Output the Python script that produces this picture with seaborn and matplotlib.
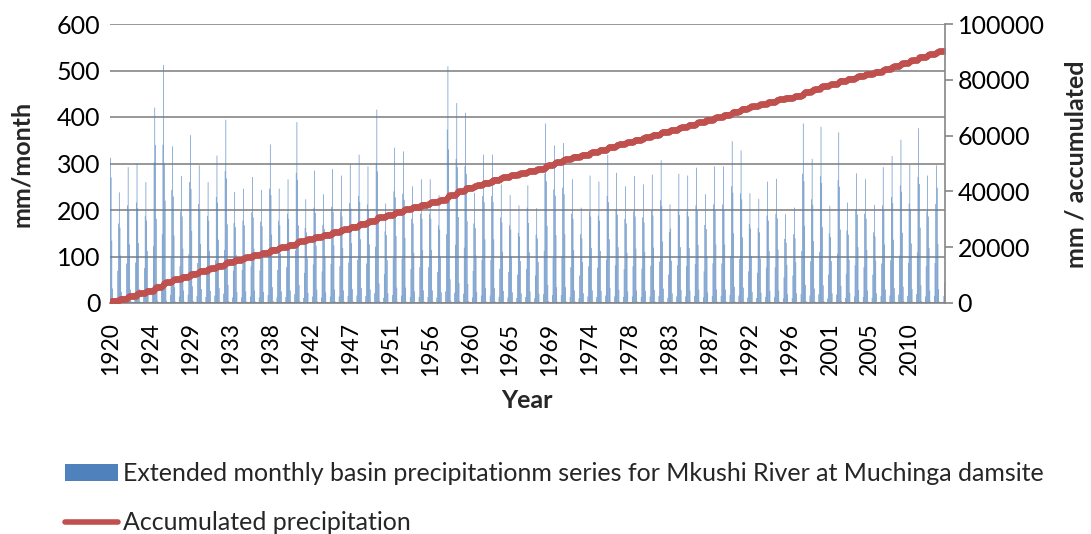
import numpy as np
import pandas as pd
import matplotlib
matplotlib.use("Agg")
import matplotlib.pyplot as plt
from matplotlib.patches import Patch
from matplotlib.lines import Line2D
import seaborn as sns

# ---- data (mm per month), one list per calendar month, years 1920..2013 ----
years = list(range(1920, 2014))

jan = [312,238,292,300,260,420,512,337,273,361,296,260,317,394,239,246,
       271,243,341,246,266,389,223,285,234,288,274,299,319,294,416,214,
       334,326,251,266,266,232,509,430,409,237,319,319,255,232,210,253,
       204,386,339,344,266,205,274,261,319,280,251,273,255,276,307,
       212,278,274,291,234,294,294,348,328,236,224,261,267,191,205,386,
       310,379,209,367,216,279,266,211,292,316,351,297,376,274,296]
feb = [270,162,199,204,177,340,300,229,186,245,201,177,216,268,163,167,
       184,165,232,167,181,265,152,194,159,196,186,203,217,200,283,146,
       227,222,171,181,181,158,330,292,278,161,217,217,173,158,143,172,
       139,262,231,234,181,139,186,177,217,190,171,186,173,188,209,
       160,189,186,198,159,200,200,237,223,160,152,177,182,130,139,262,
       211,258,142,250,147,190,181,143,199,215,239,202,256,186,248]
mar = [134,102,126,129,112,181,220,145,117,155,127,112,136,169,103,106,
       117,104,147,106,114,167,96,123,101,124,118,129,137,126,179,92,
       144,140,108,114,114,100,219,185,176,102,137,137,110,100,90,109,
       88,166,146,148,114,88,118,112,137,120,108,117,110,119,132,
       91,120,118,125,101,126,126,150,141,101,96,112,115,82,88,166,
       133,163,90,158,93,120,114,91,126,136,151,128,162,118,127]
apr = [31,24,29,30,26,42,51,34,27,36,30,26,32,39,24,25,
       27,24,34,25,27,39,22,29,23,29,27,30,32,29,42,21,
       33,33,25,27,27,23,51,43,41,24,32,32,26,23,21,25,
       20,39,34,34,27,21,27,26,32,28,25,27,26,28,31,
       21,28,27,29,23,29,29,35,33,24,22,26,27,19,21,39,
       31,38,21,37,22,28,27,21,29,32,35,30,38,27,30]
may = [3,2,4,3,2,5,5,3,3,4,3,2,3,4,2,3,
       3,2,4,2,3,4,2,3,2,3,3,3,3,3,4,2,
       3,3,2,3,3,2,5,4,4,2,3,3,2,2,2,3,
       2,4,3,3,3,2,3,3,3,3,2,3,2,3,3,
       2,3,3,3,2,3,3,3,3,2,2,3,3,2,2,4,
       3,4,2,4,2,3,3,2,3,3,4,3,4,3,3]
jun = [0,0,1,0,0,0,2,0,0,0,0,0,1,0,0,0,
       0,0,0,0,1,0,0,0,0,0,0,2,0,0,0,0,
       0,1,0,0,0,0,0,0,2,0,0,0,0,0,0,0,
       0,0,0,1,0,0,0,0,0,0,0,1,0,0,0,
       0,0,0,0,0,1,0,0,0,0,0,0,0,0,0,0,
       0,1,0,0,0,0,0,0,0,1,0,0,0,0,0]
jul = [0,0,0,0,0,0,0,0,0,0,1,0,0,0,0,0,
       0,0,0,0,0,0,0,0,0,0,0,0,0,0,0,0,
       0,0,0,0,0,0,0,0,0,0,0,0,0,0,1,0,
       0,0,0,0,0,0,0,0,0,0,0,0,0,0,0,
       0,0,0,0,0,0,0,0,0,0,0,0,0,0,0,0,
       0,0,0,0,0,0,0,0,0,0,0,0,0,0,0]
aug = [0,0,0,0,0,0,0,0,0,0,0,0,0,0,0,0,
       0,0,0,0,0,0,0,0,0,0,0,0,0,0,0,0,
       0,0,0,0,0,0,0,0,0,0,0,0,0,0,0,0,
       0,0,0,0,0,0,0,0,0,0,0,0,0,0,0,
       0,0,0,0,0,0,0,0,0,0,0,0,0,0,0,0,
       0,0,0,0,0,0,0,0,0,0,0,0,0,0,0]
sep = [1,1,2,1,1,2,2,1,1,1,1,1,2,1,1,1,
       1,1,1,1,2,1,1,1,1,1,1,1,1,2,1,1,
       1,1,1,1,1,2,2,2,1,1,1,1,1,1,1,1,
       2,1,1,1,1,1,1,1,1,1,1,1,1,1,1,
       1,1,1,1,1,1,1,1,1,1,1,1,1,1,2,1,
       1,1,2,1,1,1,1,1,1,1,1,1,1,1,1]
oct_ = [12,15,15,13,21,26,17,14,18,15,13,16,20,12,12,14,
        12,17,12,13,19,11,14,12,14,14,15,16,15,21,11,17,
        16,13,13,13,12,25,22,20,12,16,16,13,12,11,13,10,
        19,17,17,13,10,14,13,16,14,13,14,13,14,15,11,
        14,14,15,12,15,15,17,16,12,11,13,13,10,10,19,16,
        19,10,18,11,14,13,11,15,16,18,15,19,14,15,3]
nov = [69,85,87,75,122,148,98,79,105,86,75,92,114,69,71,79,
       70,99,71,77,113,65,83,68,84,79,87,93,85,121,62,97,
       95,73,77,77,67,148,125,119,69,93,93,74,67,61,73,59,
       112,98,100,77,59,79,76,93,81,73,79,74,80,89,61,
       81,79,84,68,85,85,101,95,68,65,76,77,55,59,112,90,
       110,61,106,63,81,77,61,85,92,102,86,109,79,86,15]
dec = [171,210,216,187,302,340,243,197,260,213,187,228,284,172,177,195,
       175,246,177,192,280,161,205,168,207,197,215,230,212,300,154,240,
       235,181,192,192,167,373,310,294,171,230,230,184,167,151,205,147,
       278,244,248,192,148,197,188,230,202,181,197,184,199,221,153,
       200,197,210,168,212,212,251,236,170,161,188,192,138,148,278,223,
       273,150,264,156,201,192,152,210,228,253,214,271,197,213,44]

bar_label = "Extended monthly basin precipitationm series for Mkushi River at Muchinga damsite"
line_label = "Accumulated precipitation"

# ---- build monthly table ----
months = [jan, feb, mar, apr, may, jun, jul, aug, sep, oct_, nov, dec]
monthly = np.array(months).T.reshape(-1)
n = len(monthly)
df = pd.DataFrame({
    "idx": np.arange(n),
    "year": np.repeat(years, 12),
    "precip": monthly,
})
df["accum"] = df["precip"].cumsum()

# ---- style ----
sns.set_theme(style="white")
plt.rcParams["font.family"] = ["Lato", "DejaVu Sans"]
FS = 18
FS_X = 16.5
GRID = "#868686"
BLUE = "#4F81BD"
RED = "#C0504D"

fig = plt.figure(figsize=(10.91, 5.34), dpi=100)
ax = fig.add_axes([110/1091, 1-303/534, 835/1091, 279/534])

sns.barplot(data=df, x="idx", y="precip", ax=ax, color=BLUE, saturation=1,
            width=0.8, linewidth=0, errorbar=None)
for p in ax.patches:
    p.set_snap(False)
    p.set_antialiased(True)
ax.set_ylim(0, 600)
ax.set_yticks(np.arange(0, 601, 100))
ax.set_xlim(-0.5, n - 0.5)
tick_pos = list(range(0, n, 54))
ax.set_xticks(tick_pos)
ax.set_xticklabels([str(df["year"].iloc[i]) for i in tick_pos], rotation=90)
ax.yaxis.grid(True, color=GRID, lw=1.2)
ax.set_axisbelow(True)
for s in ["left", "top", "right"]:
    ax.spines[s].set_visible(False)
ax.spines["bottom"].set_color(GRID)
ax.spines["bottom"].set_linewidth(1.2)
ax.tick_params(axis="x", length=0, pad=14, labelsize=FS_X, colors="black")
ax.tick_params(axis="y", length=0, pad=7, labelsize=FS, colors="black")
ax.set_xlabel("")
ax.set_ylabel("")

ax2 = ax.twinx()
sns.lineplot(data=df, x="idx", y="accum", ax=ax2, color=RED, lw=3.4,
             marker="o", markersize=4.4, markeredgewidth=0,
             legend=False, solid_capstyle="round")
ax2.set_ylim(0, 100000)
ax2.set_yticks(np.arange(0, 100001, 20000))
ax2.set_xlim(-0.5, n - 0.5)
for s in ["left", "top", "bottom"]:
    ax2.spines[s].set_visible(False)
ax2.spines["right"].set_color(GRID)
ax2.spines["right"].set_linewidth(1.2)
ax2.tick_params(axis="y", direction="out", length=6, width=1.2, color=GRID,
                pad=3, labelsize=FS, labelcolor="black")
ax2.set_ylabel("")
ax2.set_xlabel("")

fig.text(22/1091, 1-164/534, "mm/month", rotation=90, ha="center", va="center",
         fontsize=FS, fontweight="bold")
fig.text(1076/1091, 1-164/534, "mm / accumulated", rotation=90, ha="center",
         va="center", fontsize=FS, fontweight="bold")
fig.text(527/1091, 1-401/534, "Year", ha="center", va="center",
         fontsize=FS, fontweight="bold")

handles = [Patch(facecolor=BLUE, edgecolor="none"),
           Line2D([0], [0], color=RED, lw=4, solid_capstyle="round")]
fig.legend(handles, [bar_label, line_label], loc="upper left",
           bbox_to_anchor=(65/1091, 1-462/534), frameon=False, fontsize=FS,
           handlelength=2.1, handletextpad=0.22, labelspacing=1.05,
           borderpad=0, borderaxespad=0)

fig.savefig("out.png", dpi=100)
